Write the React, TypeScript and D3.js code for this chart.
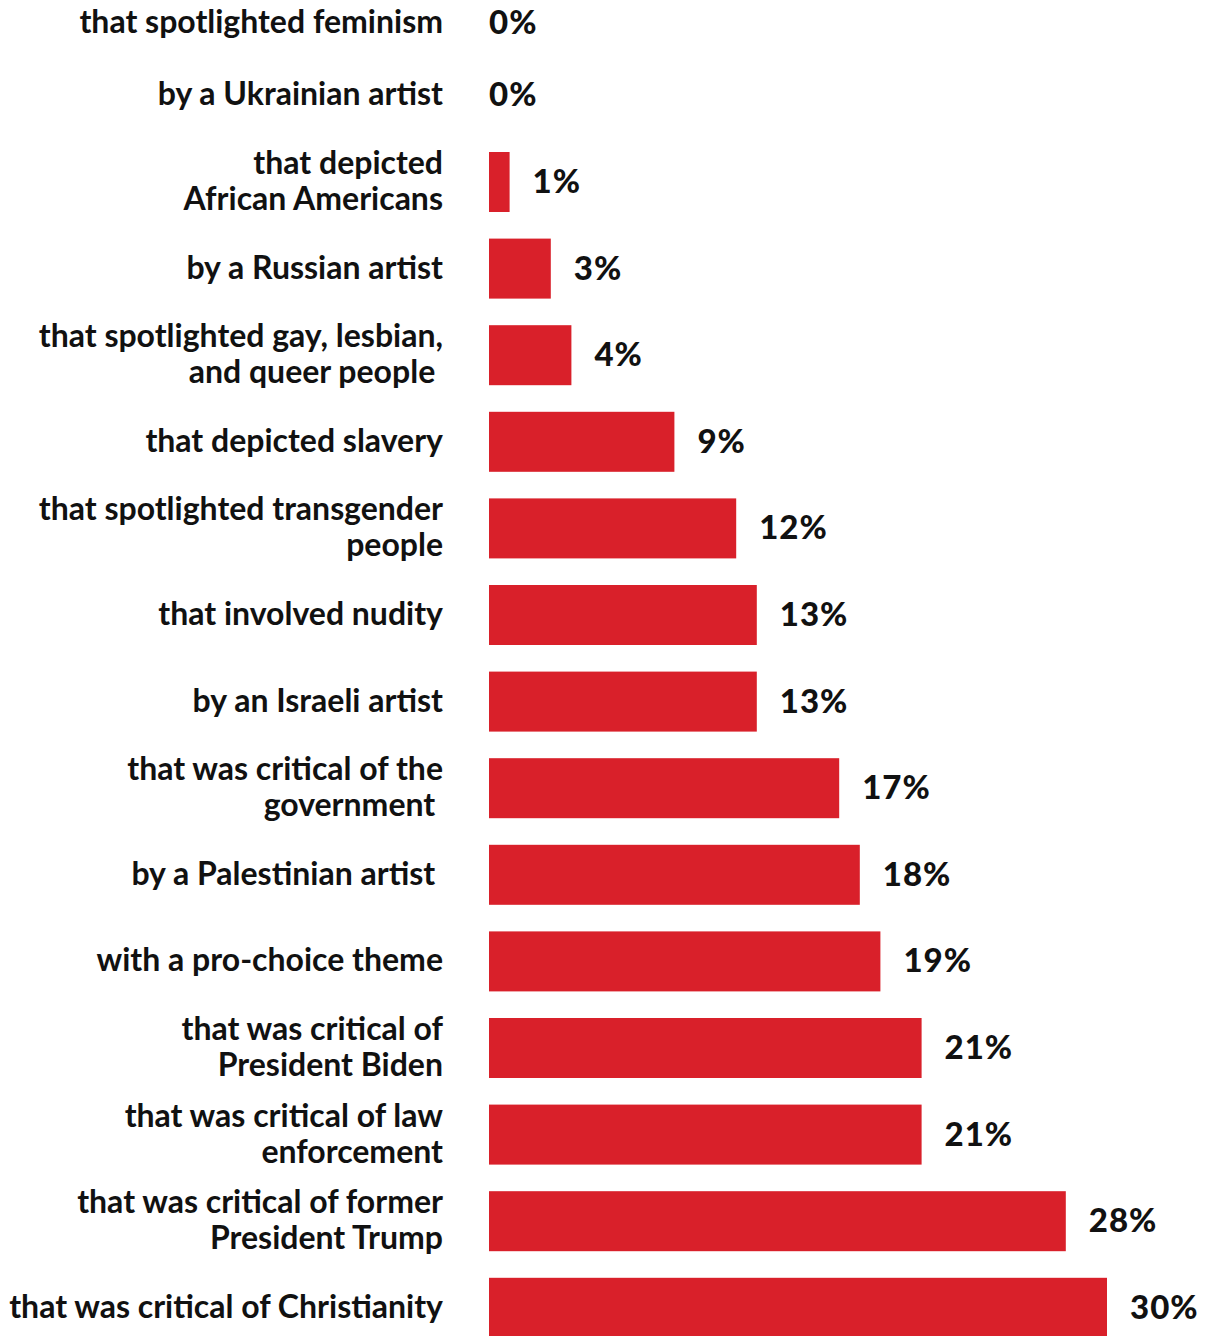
import React from "react";
import * as d3 from "d3";

// Category labels (each entry is the list of lines drawn for that row)
const categories: string[][] = [
  ["that spotlighted feminism"],
  ["by a Ukrainian artist"],
  ["that depicted", "African Americans"],
  ["by a Russian artist"],
  ["that spotlighted gay, lesbian,", "and queer people "],
  ["that depicted slavery"],
  ["that spotlighted transgender", "people"],
  ["that involved nudity"],
  ["by an Israeli artist"],
  ["that was critical of the", "government "],
  ["by a Palestinian artist "],
  ["with a pro-choice theme"],
  ["that was critical of", "President Biden"],
  ["that was critical of law", "enforcement"],
  ["that was critical of former", "President Trump"],
  ["that was critical of Christianity"],
];

// Share of respondents, in percent
const values: number[] = [0, 0, 1, 3, 4, 9, 12, 13, 13, 17, 18, 19, 21, 21, 28, 30];

const WIDTH = 1212;
const HEIGHT = 1336;
const BAR_COLOR = "#d9202a";
const LABEL_FONT = "Lato, 'Open Sans', sans-serif";

export default function App() {
  const rows = categories.map((lines, i) => ({ id: String(i), lines, value: values[i] }));

  const x = d3.scaleLinear().domain([0, 30]).range([489, 1107]);
  const y = d3
    .scalePoint<string>()
    .domain(rows.map((r) => r.id))
    .range([8.8, 1307.8]);
  const barHeight = 60;
  const labelRight = 443;
  const lineGap = 36;
  const baselineShift = 10;
  const topMin = 23; // keep the first row's text inside the canvas

  return (
    <svg
      width={WIDTH}
      height={HEIGHT}
      style={{ position: "absolute", left: 0, top: 0, background: "#fff" }}
    >
      {rows.map((r) => {
        const cy = y(r.id)!;
        const ty = Math.max(cy, topMin);
        const n = r.lines.length;
        return (
          <g key={r.id}>
            {r.value > 0 && (
              <rect
                x={x(0)}
                y={cy - barHeight / 2}
                width={x(r.value) - x(0)}
                height={barHeight}
                fill={BAR_COLOR}
              />
            )}
            <text
              textAnchor="end"
              fontFamily={LABEL_FONT}
              fontWeight={700}
              fontSize={32}
              fill="#111"
              style={{ whiteSpace: "pre" }}
              xmlSpace="preserve"
            >
              {r.lines.map((line, k) => (
                <tspan
                  key={k}
                  x={labelRight}
                  y={ty + baselineShift + (k - (n - 1) / 2) * lineGap}
                >
                  {line}
                </tspan>
              ))}
            </text>
            <text
              x={r.value > 0 ? x(r.value) + 23 : x(0)}
              y={ty + baselineShift + 1}
              fontFamily={LABEL_FONT}
              fontWeight={900}
              fontSize={33}
              letterSpacing={1}
              fill="#111"
            >
              {`${r.value}%`}
            </text>
          </g>
        );
      })}
    </svg>
  );
}
